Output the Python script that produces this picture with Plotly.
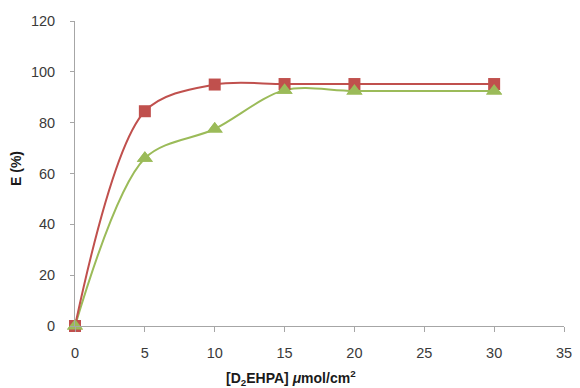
import plotly.graph_objects as go

# D2EHPA loading (µmol/cm²) and extraction efficiency E (%)
d2ehpa = [0, 5, 10, 15, 20, 30]
e_red = [0, 84.5, 95.0, 95.2, 95.2, 95.2]
e_green = [0, 66.0, 77.5, 92.8, 92.5, 92.5]

x_ticks = [0, 5, 10, 15, 20, 25, 30, 35]
y_ticks = [0, 20, 40, 60, 80, 100, 120]

RED = "#C0504D"
GREEN = "#9BBB59"
AXIS = "#A6A6A6"
FONT = "Liberation Sans, Arial, sans-serif"

fig = go.Figure()
fig.add_trace(go.Scatter(
    x=d2ehpa, y=e_green, mode="lines+markers",
    line=dict(color=GREEN, width=2, shape="spline", smoothing=0.9),
    marker=dict(symbol="triangle-up", size=14, color=GREEN),
    cliponaxis=False, showlegend=False,
))
fig.add_trace(go.Scatter(
    x=d2ehpa, y=e_red, mode="lines+markers",
    line=dict(color=RED, width=2, shape="spline", smoothing=0.9),
    marker=dict(symbol="square", size=12, color=RED),
    cliponaxis=False, showlegend=False,
))
# green markers drawn on top of the red line
fig.add_trace(go.Scatter(
    x=d2ehpa, y=e_green, mode="markers",
    marker=dict(symbol="triangle-up", size=14, color=GREEN),
    cliponaxis=False, showlegend=False,
))

tick_font = dict(family=FONT, size=14.5, color="#3A3A3A")
title_font = dict(family=FONT, size=14, color="#1A1A1A")

fig.update_layout(
    width=580, height=388,
    margin=dict(l=75, r=8, t=21, b=62),
    plot_bgcolor="white", paper_bgcolor="white",
    font=tick_font,
    xaxis=dict(
        range=[0, 35], tickvals=x_ticks,
        showgrid=False, zeroline=False, showline=True, linecolor=AXIS, linewidth=1,
        ticks="outside", ticklen=5, tickcolor=AXIS, tickfont=tick_font,
        ticklabelstandoff=9, ticklabeloverflow="allow",
    ),
    yaxis=dict(
        range=[0, 120], tickvals=y_ticks,
        showgrid=False, zeroline=False, showline=True, linecolor=AXIS, linewidth=1,
        ticks="outside", ticklen=4, tickcolor=AXIS, tickfont=tick_font,
        ticklabelstandoff=12,
    ),
    annotations=[
        dict(text="<b>[D<sub>2</sub>EHPA] <i>μ</i>mol/cm<sup>2</sup></b>",
             xref="paper", yref="paper", x=(295 - 75) / 497, y=-52 / 305,
             xanchor="center", yanchor="middle", showarrow=False, font=title_font),
        dict(text="<b>E (%)</b>", textangle=-90,
             xref="paper", yref="paper", x=-60 / 497, y=(326 - 168) / 305,
             xanchor="center", yanchor="middle", showarrow=False, font=title_font),
    ],
)

fig.write_html("out.html")
